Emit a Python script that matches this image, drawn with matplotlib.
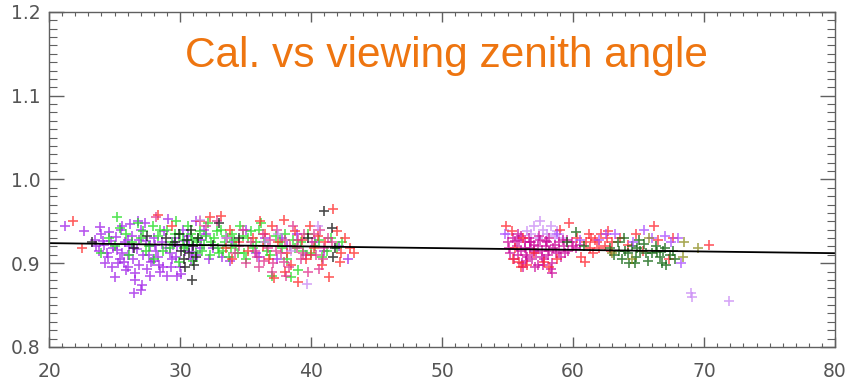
import matplotlib
matplotlib.use('Agg')
import matplotlib.pyplot as plt
from matplotlib.ticker import MultipleLocator

# data (viewing zenith angle, calibration ratio)
purple_pts = [(21.2, 0.945), (22.7, 0.938), (23.5, 0.928), (23.8, 0.915), (24.0, 0.935), (24.2, 0.922),
              (24.5, 0.908), (24.7, 0.926), (24.9, 0.918), (25.1, 0.931), (25.3, 0.900), (25.5, 0.940),
              (25.6, 0.912), (25.8, 0.925), (26.0, 0.895), (26.1, 0.920), (26.3, 0.933), (26.4, 0.905),
              (26.6, 0.888), (26.7, 0.917), (26.9, 0.928), (27.0, 0.868), (27.2, 0.910), (27.3, 0.948),
              (27.5, 0.893), (27.7, 0.921), (27.9, 0.903), (28.0, 0.930), (28.2, 0.915), (28.4, 0.898),
              (28.6, 0.925), (28.8, 0.938), (29.0, 0.885), (29.2, 0.912), (29.4, 0.905), (29.6, 0.930),
              (29.8, 0.920), (30.0, 0.895), (30.2, 0.940), (30.4, 0.915), (30.6, 0.932), (30.8, 0.905),
              (31.0, 0.922), (31.3, 0.910), (31.6, 0.928), (32.0, 0.935), (32.5, 0.918), (33.2, 0.907),
              (34.0, 0.925), (35.0, 0.940), (35.8, 0.912), (36.5, 0.930), (37.4, 0.905), (38.2, 0.920),
              (38.9, 0.935), (39.6, 0.910), (40.3, 0.925), (41.0, 0.915), (42.1, 0.920), (42.8, 0.905),
              (24.3, 0.900), (25.0, 0.883), (25.9, 0.892), (26.5, 0.865), (27.1, 0.874), (27.8, 0.902),
              (28.5, 0.889), (29.3, 0.895), (30.1, 0.887), (30.7, 0.921), (23.9, 0.943), (26.2, 0.947),
              (26.8, 0.950), (29.1, 0.953), (31.2, 0.951), (25.4, 0.905), (26.0, 0.910), (24.8, 0.895),
              (23.6, 0.920), (24.1, 0.927), (24.4, 0.912), (24.6, 0.937), (25.2, 0.916), (25.7, 0.902),
              (26.0, 0.928), (26.4, 0.918), (26.9, 0.898), (27.4, 0.926), (27.6, 0.910), (28.1, 0.922),
              (28.3, 0.908), (28.9, 0.918), (29.5, 0.922), (29.7, 0.908), (30.3, 0.926), (30.9, 0.914),
              (31.5, 0.918), (32.2, 0.905), (27.0, 0.940), (25.6, 0.945), (28.7, 0.895), (26.6, 0.880),
              (27.7, 0.885), (29.8, 0.885), (31.8, 0.940), (33.8, 0.903), (36.0, 0.907), (37.8, 0.930)]
green_pts = [(24.0, 0.912), (24.6, 0.930), (25.2, 0.955), (25.4, 0.942), (25.9, 0.935), (26.3, 0.925),
             (26.8, 0.948), (27.2, 0.938), (27.6, 0.920), (27.9, 0.945), (28.3, 0.932), (28.7, 0.915),
             (29.0, 0.940), (29.4, 0.925), (29.7, 0.950), (30.0, 0.935), (30.3, 0.918), (30.6, 0.945),
             (30.9, 0.928), (31.2, 0.912), (31.5, 0.938), (31.8, 0.922), (32.1, 0.948), (32.3, 0.910),
             (32.6, 0.930), (32.9, 0.918), (33.1, 0.940), (33.4, 0.925), (33.7, 0.908), (34.0, 0.935),
             (34.3, 0.920), (34.6, 0.945), (34.9, 0.912), (35.2, 0.930), (35.6, 0.918), (36.0, 0.940),
             (36.4, 0.925), (36.9, 0.910), (37.3, 0.932), (37.8, 0.918), (38.2, 0.905), (38.6, 0.928),
             (39.0, 0.892), (39.4, 0.915), (39.8, 0.935), (40.3, 0.920), (40.8, 0.908), (41.5, 0.930),
             (42.0, 0.918), (42.4, 0.925), (26.1, 0.910), (28.0, 0.905), (29.9, 0.902), (31.0, 0.903),
             (33.0, 0.912), (35.0, 0.905), (37.0, 0.885), (38.5, 0.883), (36.2, 0.948), (25.0, 0.920),
             (32.4, 0.925), (33.3, 0.915), (34.1, 0.928), (31.4, 0.930), (30.5, 0.920),
             (27.0, 0.930), (27.4, 0.915), (28.5, 0.940), (29.2, 0.918), (29.6, 0.935), (30.2, 0.928),
             (30.8, 0.935), (31.3, 0.925), (31.7, 0.915), (32.0, 0.932), (32.8, 0.938), (33.5, 0.932),
             (33.9, 0.918), (34.4, 0.912), (34.8, 0.932), (35.4, 0.938), (35.8, 0.925), (36.6, 0.915),
             (37.6, 0.925), (38.0, 0.935), (38.8, 0.918), (39.2, 0.925), (40.0, 0.912), (40.6, 0.928),
             (41.2, 0.915)]
black_pts = [(29.6, 0.925), (29.9, 0.935), (30.1, 0.915), (30.3, 0.905), (30.5, 0.928), (30.7, 0.912),
             (30.8, 0.940), (31.0, 0.920), (31.2, 0.908), (31.4, 0.930), (30.4, 0.895), (31.1, 0.898),
             (30.9, 0.880), (27.5, 0.933), (33.0, 0.948), (34.5, 0.930), (32.5, 0.922), (41.0, 0.962),
             (41.6, 0.942), (41.8, 0.918), (41.7, 0.908), (39.8, 0.930), (23.3, 0.925), (26.5, 0.918),
             (28.9, 0.930)]
red_pts = [(21.8, 0.950), (22.5, 0.918), (28.3, 0.958), (29.4, 0.945), (31.5, 0.950), (32.3, 0.955),
           (33.1, 0.956), (33.8, 0.940), (34.5, 0.925), (35.2, 0.915), (36.1, 0.950), (36.5, 0.935),
           (36.8, 0.905), (37.0, 0.945), (37.2, 0.882), (37.5, 0.925), (37.9, 0.952), (38.2, 0.912),
           (38.5, 0.898), (38.8, 0.938), (39.0, 0.878), (39.3, 0.928), (39.6, 0.905), (39.9, 0.945),
           (40.2, 0.918), (40.5, 0.932), (40.8, 0.898), (41.1, 0.925), (41.4, 0.884), (41.7, 0.965),
           (42.0, 0.938), (42.3, 0.912), (42.6, 0.930), (43.0, 0.918), (43.3, 0.912), (35.6, 0.930),
           (34.0, 0.905), (38.0, 0.890), (40.0, 0.910), (36.3, 0.920), (42.2, 0.902), (33.5, 0.918)]
pink_pts = [(28.2, 0.955), (32.0, 0.945), (32.8, 0.950), (33.6, 0.930), (34.2, 0.912), (34.8, 0.940),
            (35.4, 0.925), (35.9, 0.908), (36.3, 0.935), (36.7, 0.918), (37.1, 0.900), (37.4, 0.940),
            (37.7, 0.912), (38.0, 0.928), (38.3, 0.895), (38.6, 0.945), (38.9, 0.918), (39.2, 0.905),
            (39.5, 0.935), (39.8, 0.890), (40.1, 0.925), (40.4, 0.910), (40.7, 0.940), (41.0, 0.918),
            (41.3, 0.930), (37.0, 0.890), (36.0, 0.895), (38.1, 0.885), (35.0, 0.900), (40.6, 0.893),
            (34.5, 0.920), (35.7, 0.915), (36.9, 0.928), (37.3, 0.915), (38.4, 0.920), (39.0, 0.928),
            (39.4, 0.912), (40.2, 0.935), (40.9, 0.905), (41.6, 0.925), (36.4, 0.903), (37.9, 0.902)]
lilac_pts = [(36.5, 0.925), (37.5, 0.935), (38.5, 0.915), (39.7, 0.875), (40.5, 0.945), (33.5, 0.930),
             (31.5, 0.952), (56.5, 0.938), (57.0, 0.945), (57.3, 0.930), (57.7, 0.940), (58.0, 0.935),
             (58.3, 0.945), (58.6, 0.932), (57.5, 0.950), (56.8, 0.935), (58.8, 0.938), (59.2, 0.930),
             (69.0, 0.865), (69.1, 0.860), (71.9, 0.855), (55.0, 0.935)]
magenta_pts = [(55.0, 0.925), (55.2, 0.912), (55.4, 0.930), (55.5, 0.905), (55.7, 0.920), (55.8, 0.935),
               (56.0, 0.915), (56.1, 0.900), (56.3, 0.925), (56.4, 0.910), (56.6, 0.930), (56.7, 0.918),
               (56.9, 0.905), (57.0, 0.922), (57.2, 0.912), (57.3, 0.898), (57.5, 0.928), (57.6, 0.915),
               (57.8, 0.905), (57.9, 0.920), (58.1, 0.910), (58.2, 0.930), (58.4, 0.900), (58.5, 0.918),
               (58.7, 0.912), (58.9, 0.925), (59.1, 0.908), (59.3, 0.920), (59.6, 0.915), (59.9, 0.925),
               (60.2, 0.918), (56.2, 0.895), (57.1, 0.895), (58.3, 0.893), (55.9, 0.928), (57.4, 0.933),
               (56.8, 0.925), (58.0, 0.925), (59.5, 0.928), (60.5, 0.922),
               (55.1, 0.918), (55.6, 0.926), (55.8, 0.910), (56.0, 0.932), (56.3, 0.918), (56.5, 0.908),
               (56.7, 0.925), (57.0, 0.915), (57.3, 0.920), (57.6, 0.908), (57.9, 0.926), (58.2, 0.915),
               (58.6, 0.922), (58.9, 0.915), (59.2, 0.928), (56.4, 0.903), (57.7, 0.898), (58.4, 0.888),
               (59.4, 0.912), (60.0, 0.920)]
red2_pts = [(54.9, 0.945), (55.3, 0.938), (55.6, 0.918), (55.9, 0.902), (56.2, 0.930), (56.5, 0.898),
            (57.0, 0.912), (57.8, 0.902), (58.2, 0.895), (58.8, 0.905), (59.7, 0.948), (60.3, 0.930),
            (60.6, 0.908), (61.0, 0.925), (61.3, 0.918), (61.5, 0.912), (61.8, 0.925), (62.1, 0.935),
            (62.4, 0.920), (62.7, 0.938), (63.0, 0.925), (63.6, 0.930), (64.2, 0.922), (64.8, 0.935),
            (65.3, 0.915), (66.2, 0.945), (66.5, 0.928), (67.3, 0.905), (67.6, 0.930), (70.4, 0.922),
            (61.4, 0.930), (62.9, 0.915), (60.9, 0.902), (61.2, 0.935), (61.7, 0.928), (62.0, 0.918),
            (62.6, 0.930), (55.4, 0.905), (56.0, 0.895), (59.0, 0.940)]
dkgreen_pts = [(60.2, 0.937), (60.8, 0.920), (62.8, 0.918), (63.1, 0.910), (63.4, 0.925), (63.7, 0.905),
               (64.0, 0.915), (64.3, 0.900), (64.5, 0.920), (64.8, 0.908), (65.1, 0.915), (65.4, 0.923),
               (65.7, 0.903), (66.0, 0.912), (66.3, 0.920), (66.6, 0.908), (66.9, 0.915), (67.1, 0.898),
               (67.4, 0.910), (67.8, 0.905), (63.9, 0.930), (65.0, 0.928), (59.5, 0.925),
               (63.5, 0.915), (64.2, 0.912), (64.9, 0.918), (65.6, 0.912), (66.4, 0.914), (67.0, 0.918),
               (67.6, 0.915), (64.7, 0.900), (66.8, 0.900)]
violet2_pts = [(58.8, 0.935), (60.5, 0.928), (62.5, 0.935), (63.2, 0.935), (65.4, 0.940), (66.0, 0.930),
               (67.0, 0.933), (67.5, 0.925), (68.0, 0.930), (68.2, 0.900), (64.6, 0.925), (62.0, 0.928),
               (54.8, 0.935)]
olive_pts = [(63.0, 0.912), (64.5, 0.905), (65.8, 0.930), (68.4, 0.908), (69.5, 0.918), (68.5, 0.925)]

fit_x = [20, 80]
fit_y = [0.924, 0.912]

groups = [
    (purple_pts, '#a020e8'),
    (green_pts, '#20dd20'),
    (red_pts, '#ff2a2a'),
    (pink_pts, '#e0308c'),
    (lilac_pts, '#c98af5'),
    (black_pts, '#101010'),
    (magenta_pts, '#cc0a9a'),
    (red2_pts, '#ff2530'),
    (dkgreen_pts, '#0b620b'),
    (violet2_pts, '#a848ff'),
    (olive_pts, '#8c8c1e'),
]

fig = plt.figure(figsize=(8.48, 3.84), dpi=100)
ax = fig.add_axes([0.0578, 0.0964, 0.927, 0.8724])

for pts, col in groups:
    xs = [p[0] for p in pts]
    ys = [p[1] for p in pts]
    ax.plot(xs, ys, linestyle='none', marker='+', ms=6.5, mew=1.2, color=col, alpha=0.75)

ax.plot(fit_x, fit_y, color='black', lw=1.3)

ax.set_xlim(20, 80)
ax.set_ylim(0.8, 1.2)
ax.xaxis.set_major_locator(MultipleLocator(10))
ax.xaxis.set_minor_locator(MultipleLocator(1))
ax.yaxis.set_major_locator(MultipleLocator(0.1))
ax.yaxis.set_minor_locator(MultipleLocator(0.01))
ax.set_yticks([0.8, 0.9, 1.0, 1.1, 1.2])
ax.set_yticklabels(['0.8', '0.9', '1.0', '1.1', '1.2'])

gray = '#606060'
for s in ax.spines.values():
    s.set_color(gray)
    s.set_linewidth(1.0)
ax.tick_params(which='both', direction='in', top=True, right=True, colors=gray,
               labelcolor='#555555', labelsize=13.5)
ax.tick_params(axis='y', which='major', length=11, width=1.0, pad=6)
ax.tick_params(axis='y', which='minor', length=6, width=0.8)
ax.tick_params(axis='x', which='major', length=7, width=1.0, pad=11)
ax.tick_params(axis='x', which='minor', length=3, width=0.8)

ax.text(0.505, 0.868, 'Cal. vs viewing zenith angle', transform=ax.transAxes,
        ha='center', va='center', color='#ee7510', fontsize=30.5, family='Liberation Sans')

fig.savefig('out.png', dpi=100)
